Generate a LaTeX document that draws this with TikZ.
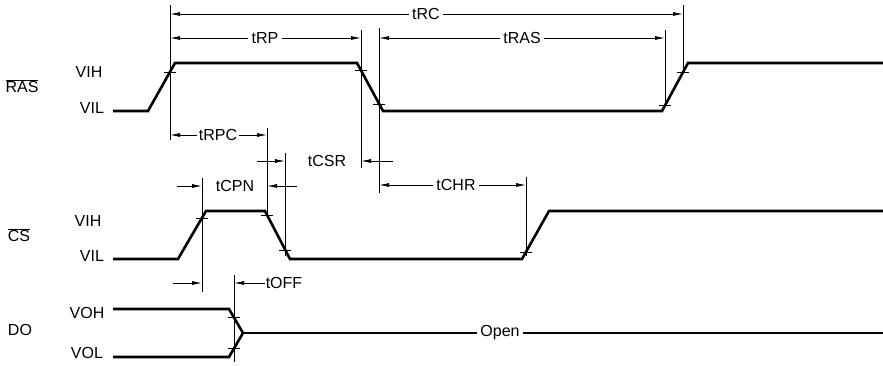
\documentclass[tikz,border=0pt]{standalone}
\usepackage{fontspec}
\setmainfont{Liberation Sans}
\usetikzlibrary{arrows.meta}
\begin{document}
\begin{tikzpicture}[x=1pt,y=-1pt,
  sig/.style={line width=2.6pt},
  thin/.style={line width=0.8pt},
  arr/.style={thin,-{Latex[length=10pt,width=4pt]}},
  tickmark/.style={line width=0.9pt},
  lbl/.style={font=\fontsize{16}{16}\selectfont, inner sep=3pt},
  sname/.style={font=\fontsize{16}{16}\selectfont, inner sep=0pt}]
\useasboundingbox (0,0) rectangle (883,366);

% ---- signal names and levels
\node[sname] (nRAS) at (22,86) {$\overline{\mbox{RAS}}$};
\node[sname] (rVIH) at (89,72) {VIH};
\node[sname] (rVIL) at (92,108) {VIL};
\node[sname] (nCS) at (19,235) {$\overline{\mbox{CS}}$};
\node[sname] (cVIH) at (88,221) {VIH};
\node[sname] (cVIL) at (92,256) {VIL};
\node[sname] (nDO) at (20,330) {DO};
\node[sname] (dVOH) at (87,313) {VOH};
\node[sname] (dVOL) at (87,353) {VOL};

% ---- waveforms
\draw[sig] (113,111) -- (148,111) -- (175,63) -- (357,63) -- (383,111)
  -- (662,111) -- (688,63) -- (883,63);
\draw[sig] (113,259) -- (178,259) -- (206,211) -- (265,211) -- (290,259)
  -- (522,259) -- (549,211) -- (883,211);
\coordinate (dx) at (243,333);
\draw[sig] (113,309) -- (229,309) -- (dx);
\draw[sig] (113,357) -- (229,357) -- (dx);
\node[lbl] (open) at (500,333) {Open};
\draw[sig] (dx) -- (open.west);
\draw[sig] (open.east) -- (883,333);

% ---- guide lines
\coordinate (g1) at (170,5);   \draw[thin] (g1) -- (170,140);
\coordinate (g2) at (361,30);  \draw[thin] (g2) -- (361,168);
\coordinate (g3) at (379,28);  \draw[thin] (g3) -- (379,193);
\coordinate (g4) at (665,30);  \draw[thin] (g4) -- (665,106);
\coordinate (g5) at (683,5);   \draw[thin] (g5) -- (683,73);
\coordinate (g6) at (202,178); \draw[thin] (g6) -- (202,292);
\coordinate (g7) at (267,128); \draw[thin] (g7) -- (267,218);
\coordinate (g8) at (285,153); \draw[thin] (g8) -- (285,256);
\coordinate (g9) at (526,177); \draw[thin] (g9) -- (526,256);
\coordinate (g10) at (234,275); \draw[thin] (g10) -- (234,362);

% ---- tick marks
\foreach \x/\y in {170/72,361/70,379/104,665/105,683/72,202/218,267/215,285/250,526/252,234/317,234/348}
  \draw[tickmark] (\x-6,\y) -- (\x+6,\y);

% ---- timing parameters
\node[lbl] (tRC) at (426,14) {tRC};
\draw[arr] (tRC) -- (tRC -| g1);
\draw[arr] (tRC) -- (tRC -| g5);

\node[lbl] (tRP) at (265,38) {tRP};
\draw[arr] (tRP) -- (tRP -| g1);
\draw[arr] (tRP) -- (tRP -| g2);

\node[lbl] (tRAS) at (522,38) {tRAS};
\draw[arr] (tRAS) -- (tRAS -| g3);
\draw[arr] (tRAS) -- (tRAS -| g4);

\node[lbl,inner sep=2pt] (tRPC) at (218,135) {tRPC};
\draw[arr] (tRPC) -- (tRPC -| g1);
\draw[arr] (tRPC) -- (tRPC -| g7);

\node[lbl] (tCPN) at (235,186) {tCPN};
\coordinate (cpnL) at (177,186);
\coordinate (cpnR) at (297,186);
\draw[arr] (cpnL) -- (cpnL -| g6);
\draw[arr] (cpnR) -- (cpnR -| g7);

\node[lbl] (tCSR) at (327,161) {tCSR};
\coordinate (csrL) at (257,161);
\coordinate (csrR) at (393,161);
\draw[arr] (csrL) -- (csrL -| g8);
\draw[arr] (csrR) -- (csrR -| g2);

\node[lbl] (tCHR) at (456,185) {tCHR};
\draw[arr] (tCHR) -- (tCHR -| g3);
\draw[arr] (tCHR) -- (tCHR -| g9);

\node[lbl,inner sep=1pt] (tOFF) at (284,283) {tOFF};
\coordinate (offL) at (173,283);
\draw[arr] (offL) -- (offL -| g6);
\draw[arr] (tOFF) -- (tOFF -| g10);
\end{tikzpicture}
\end{document}
